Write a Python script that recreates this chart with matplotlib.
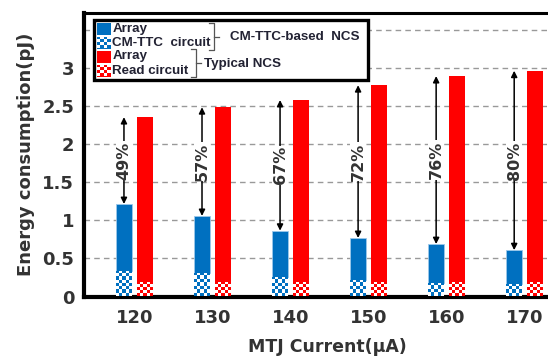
import numpy as np
import matplotlib
matplotlib.use("Agg")
import matplotlib.pyplot as plt
from matplotlib.patches import Rectangle

# ---- data ----
currents = ['120', '130', '140', '150', '160', '170']
cm_circuit = [0.34, 0.305, 0.25, 0.217, 0.18, 0.165]
cm_array = [0.877, 0.755, 0.616, 0.553, 0.51, 0.445]
typ_read = [0.195, 0.195, 0.195, 0.195, 0.195, 0.195]
typ_array = [2.165, 2.295, 2.39, 2.585, 2.705, 2.775]
reductions = ['49%', '57%', '67%', '72%', '76%', '80%']

BLUE = '#0070C0'
RED = '#FF0000'
TXT = '#333333'

W, H = 548, 359
fig = plt.figure(figsize=(W / 100, H / 100), dpi=100)
ax = fig.add_axes([84 / W, 62.5 / H, (570 - 84) / W, (296.5 - 13) / H])

x = np.arange(len(currents))
off = 0.135
bw = 0.2
ax.set_xlim(-0.647, 5.58)
ax.set_ylim(0, 3.73)

def checker(ax, patch, color, cell_px=3.1):
    x0, y0 = patch.get_x(), patch.get_y()
    w, h = patch.get_width(), patch.get_height()
    p0 = ax.transData.transform((x0, y0))
    p1 = ax.transData.transform((x0 + w, y0 + h))
    nc = max(1, int(round(abs(p1[0] - p0[0]) / cell_px)))
    nr = max(1, int(round(abs(p1[1] - p0[1]) / cell_px)))
    ii, jj = np.indices((nr, nc))
    mask = (ii + jj) % 2
    rgb = np.array(matplotlib.colors.to_rgb(color))
    img = np.ones((nr, nc, 3))
    img[mask == 0] = rgb
    im = ax.imshow(img, extent=(x0, x0 + w, y0, y0 + h), aspect='auto',
                   interpolation='nearest', zorder=3)
    im.set_clip_path(patch)

# CM-TTC based bars
b_circ = ax.bar(x - off, cm_circuit, bw, color=BLUE, zorder=2, linewidth=0)
b_arr = ax.bar(x - off, cm_array, bw, bottom=cm_circuit, color=BLUE, zorder=2,
               edgecolor='#9cc8ea', linewidth=0.6)
# typical bars
r_read = ax.bar(x + off, typ_read, bw, color=RED, zorder=2, linewidth=0)
r_arr = ax.bar(x + off, typ_array, bw, bottom=typ_read, color=RED, zorder=2, linewidth=0)

for p in b_circ.patches:
    checker(ax, p, BLUE)
for p in r_read.patches:
    checker(ax, p, RED)

ax.set_xlim(-0.647, 5.58)
ax.set_ylim(0, 3.73)

# arrows and percentage labels
cm_tot = np.array(cm_circuit) + np.array(cm_array)
typ_tot = np.array(typ_read) + np.array(typ_array)
for i in range(len(currents)):
    ax.annotate('', xy=(x[i] - off, typ_tot[i]), xytext=(x[i] - off, cm_tot[i]),
                arrowprops=dict(arrowstyle='<|-|>', color='black', lw=1.1,
                                mutation_scale=9, shrinkA=0, shrinkB=0), zorder=4)
    ax.text(x[i] - off, (typ_tot[i] + cm_tot[i]) / 2, reductions[i], rotation=90,
            ha='center', va='center', fontsize=11.5, fontweight='bold', color=TXT,
            bbox=dict(facecolor='white', edgecolor='none', pad=0.5), zorder=5)

# axes styling
ax.set_yticks([0, 0.5, 1, 1.5, 2, 2.5, 3, 3.5])
ax.set_yticklabels(['0', '0.5', '1', '1.5', '2', '2.5', '3', ''])
ax.set_xticks(x)
ax.set_xticklabels(currents)
ax.tick_params(length=0, labelsize=13, labelcolor=TXT)
for lab in ax.get_xticklabels() + ax.get_yticklabels():
    lab.set_fontweight('bold')
ax.tick_params(axis='x', pad=9)
ax.tick_params(axis='y', pad=7)
ax.yaxis.grid(True, linestyle=(0, (4, 3)), color='#999999', linewidth=1)
ax.set_axisbelow(True)
for s in ['left', 'bottom']:
    ax.spines[s].set_linewidth(3)
ax.spines['top'].set_linewidth(2.2)
ax.spines['right'].set_visible(False)
ax.set_xlabel('MTJ Current(μA)', fontsize=12.5, fontweight='bold', color=TXT, labelpad=8)
ax.set_ylabel('Energy consumption(pJ)', fontsize=13, fontweight='bold', color=TXT, labelpad=5)

# ---- legend in pixel coordinates ----
lax = fig.add_axes([0, 0, 1, 1], zorder=10)
lax.set_xlim(0, W)
lax.set_ylim(H, 0)
lax.axis('off')
lax.patch.set_alpha(0)
lax.add_patch(Rectangle((93.5, 20), 274.5, 60, facecolor='white', edgecolor='black', lw=2.4))

LT = '#222233'
LFONT = dict(family=['Liberation Sans', 'DejaVu Sans'], fontweight='bold', color=LT)

def icon(xp, yp, color, check):
    r = Rectangle((xp, yp), 14, 11.5, facecolor=color, edgecolor='none')
    lax.add_patch(r)
    if check:
        ii, jj = np.indices((4, 4))
        img = np.ones((4, 4, 3))
        img[(ii + jj) % 2 == 0] = matplotlib.colors.to_rgb(color)
        im = lax.imshow(img, extent=(xp, xp + 14, yp + 11.5, yp), aspect='auto',
                        interpolation='nearest', zorder=3)
        im.set_clip_path(r)

rows = [(23, 29, BLUE, False, 'Array'), (37, 42.5, BLUE, True, 'CM-TTC  circuit'),
        (51, 56, RED, False, 'Array'), (65, 71, RED, True, 'Read circuit')]
for yp, yt, c, chk, t in rows:
    icon(97, yp, c, chk)
    lax.text(112.5, yt, t, fontsize=9.6, ha='left', va='center', **LFONT)
lax.set_xlim(0, W)
lax.set_ylim(H, 0)

def brace(xl, y0, y1, nub):
    ym = (y0 + y1) / 2
    lax.plot([xl, xl + 5, xl + 5, xl], [y0, y0, y1, y1], color='#555555', lw=0.9)
    lax.plot([xl + 5, xl + 5 + nub], [ym, ym], color='#555555', lw=0.9)

brace(209, 23, 50, 5)
brace(191, 49, 77, 5)
lax.text(230, 37.5, 'CM-TTC-based  NCS', fontsize=9.6, ha='left', va='center', **LFONT)
lax.text(204, 64, 'Typical NCS', fontsize=9.6, ha='left', va='center', **LFONT)

fig.savefig('out.png', dpi=100)
